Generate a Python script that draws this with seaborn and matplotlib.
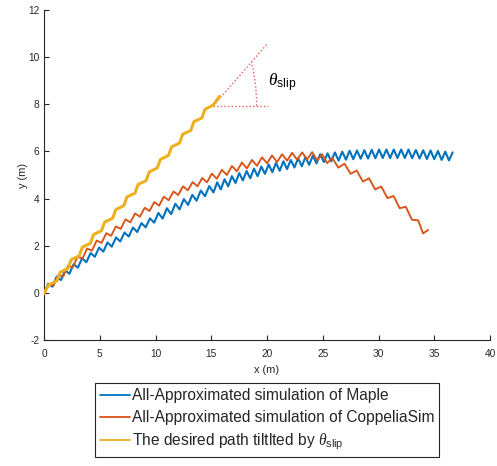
import matplotlib
matplotlib.use("Agg")
import matplotlib.pyplot as plt
import seaborn as sns
from matplotlib.patches import Arc

# ---------------- data ----------------
maple_x = [0.00, 0.38, 0.76, 1.14, 1.52, 1.90, 2.28, 2.66, 3.04, 3.42, 3.80, 4.18, 4.56, 4.94,
           5.32, 5.70, 6.08, 6.46, 6.84, 7.22, 7.60, 7.98, 8.36, 8.74, 9.12, 9.50, 9.88, 10.26,
           10.64, 11.02, 11.40, 11.78, 12.16, 12.54, 12.92, 13.30, 13.68, 14.06, 14.44, 14.82,
           15.20, 15.53, 15.86, 16.19, 16.52, 16.85, 17.18, 17.51, 17.84, 18.17, 18.50, 18.83,
           19.16, 19.49, 19.82, 20.15, 20.48, 20.81, 21.14, 21.47, 21.80, 22.13, 22.46, 22.79,
           23.12, 23.45, 23.78, 24.11, 24.44, 24.77, 25.10, 25.43, 25.76, 26.09, 26.42, 26.75,
           27.08, 27.41, 27.74, 28.07, 28.40, 28.73, 29.06, 29.39, 29.72, 30.05, 30.38, 30.71,
           31.04, 31.37, 31.70, 32.03, 32.36, 32.69, 33.02, 33.35, 33.68, 34.01, 34.34, 34.67,
           35.00, 35.33, 35.66, 35.99, 36.32, 36.65]
maple_y = [-0.04, 0.39, 0.26, 0.69, 0.54, 0.96, 0.81, 1.22, 1.07, 1.47, 1.30, 1.69, 1.53, 1.92,
           1.75, 2.14, 1.96, 2.35, 2.18, 2.56, 2.39, 2.77, 2.58, 2.96, 2.78, 3.16, 2.98, 3.39,
           3.15, 3.59, 3.34, 3.78, 3.54, 3.98, 3.73, 4.16, 3.91, 4.34, 4.10, 4.53,
           4.26, 4.69, 4.39, 4.82, 4.52, 4.95, 4.66, 5.08, 4.77, 5.17, 4.86, 5.27,
           4.95, 5.36, 5.05, 5.45, 5.12, 5.51, 5.18, 5.58, 5.25, 5.64, 5.32, 5.71,
           5.37, 5.76, 5.43, 5.82, 5.49, 5.88, 5.55, 5.92, 5.58, 5.96, 5.61, 5.99,
           5.65, 6.03, 5.67, 6.04, 5.69, 6.05, 5.70, 6.07, 5.71, 6.08, 5.72, 6.08,
           5.72, 6.08, 5.72, 6.08, 5.72, 6.08, 5.71, 6.06, 5.70, 6.05, 5.68, 6.04,
           5.67, 6.02, 5.64, 5.99, 5.62, 5.96]

coppelia_x = [0.00, 0.43, 0.86, 1.29, 1.72, 2.15, 2.58, 3.01, 3.44, 3.87, 4.30, 4.73, 5.16, 5.59,
              6.02, 6.45, 6.88, 7.31, 7.74, 8.17, 8.60, 9.03, 9.46, 9.89, 10.32, 10.75, 11.18,
              11.61, 12.04, 12.47, 12.90, 13.33, 13.76, 14.19, 14.62, 15.05,
              15.50, 15.95, 16.40, 16.85, 17.30, 17.75, 18.20, 18.65, 19.10, 19.55, 20.00, 20.45,
              20.90, 21.35, 21.80, 22.25, 22.70, 23.15, 23.60, 24.05, 24.50, 24.95, 25.40, 25.85,
              26.40, 26.95, 27.50, 28.05, 28.60, 29.15, 29.70, 30.25, 30.80, 31.35, 31.90, 32.45,
              33.00, 33.55, 34.00, 34.45]
coppelia_y = [-0.08, 0.37, 0.31, 0.76, 0.69, 1.15, 1.08, 1.53, 1.45, 1.88, 1.79, 2.22, 2.12, 2.53,
              2.42, 2.82, 2.71, 3.12, 2.99, 3.37, 3.23, 3.61, 3.47, 3.85, 3.70, 4.08, 3.93,
              4.30, 4.15, 4.52, 4.35, 4.70, 4.52, 4.87, 4.69, 5.06,
              4.84, 5.22, 5.00, 5.38, 5.16, 5.53, 5.28, 5.64, 5.39, 5.75, 5.50, 5.83,
              5.55, 5.88, 5.61, 5.94, 5.65, 5.96, 5.66, 5.97, 5.62, 5.88, 5.50, 5.73,
              5.31, 5.48, 5.05, 5.19, 4.72, 4.86, 4.39, 4.51, 4.02, 4.11, 3.59, 3.65,
              3.10, 3.08, 2.52, 2.67]

desired_x = [0.00, 0.44, 1.16, 1.44, 2.16, 2.44, 3.16, 3.44, 4.16, 4.44, 5.16, 5.44, 6.16, 6.44,
             7.16, 7.44, 8.16, 8.44, 9.16, 9.44, 10.16, 10.44, 11.16, 11.44, 12.16, 12.44,
             13.16, 13.44, 14.16, 14.44, 15.16, 15.75]
desired_y = [0.00, 0.34, 0.51, 0.87, 1.04, 1.41, 1.57, 1.94, 2.10, 2.47, 2.64, 3.00, 3.17, 3.53,
             3.70, 4.07, 4.23, 4.60, 4.76, 5.13, 5.30, 5.66, 5.83, 6.19, 6.36, 6.73,
             6.89, 7.26, 7.42, 7.79, 7.96, 8.34]

series_labels = ["All-Approximated simulation of Maple",
                 "All-Approximated simulation of CoppeliaSim",
                 r"The desired path tiltlted by $\theta_{\rm slip}$"]
x_ticks = [0, 5, 10, 15, 20, 25, 30, 35, 40]
y_ticks = [-2, 0, 2, 4, 6, 8, 10, 12]

# slip-angle construction (data coordinates)
slip_vertex = (15.2, 7.94)
slip_tip = (20.0, 10.55)
slip_h_end = 20.1
slip_radius = 3.87
slip_angle_deg = 28.5
slip_text_pos = (20.1, 8.77)

# ---------------- style ----------------
sns.set_theme(style="white")
plt.rcParams["font.family"] = ["Liberation Sans", "DejaVu Sans"]
plt.rcParams["mathtext.fontset"] = "custom"
plt.rcParams["mathtext.rm"] = "Liberation Sans"
plt.rcParams["mathtext.it"] = "Liberation Serif:italic"
plt.rcParams["mathtext.bf"] = "Liberation Sans:bold"
plt.rcParams["axes.unicode_minus"] = False

c_blue, c_red, c_yel = "#0072BD", "#D95319", "#EDB120"
dark = "#262626"

fig = plt.figure(figsize=(4.97, 4.66), dpi=100)
ax = fig.add_axes([44 / 497, 126 / 466, 446 / 497, 330 / 466])

sns.lineplot(x=maple_x, y=maple_y, ax=ax, color=c_blue, linewidth=1.5, sort=False,
             estimator=None, label=series_labels[0], zorder=3)
sns.lineplot(x=coppelia_x, y=coppelia_y, ax=ax, color=c_red, linewidth=1.35, sort=False,
             estimator=None, label=series_labels[1], zorder=4)
sns.lineplot(x=desired_x, y=desired_y, ax=ax, color=c_yel, linewidth=2.2, sort=False,
             estimator=None, label=series_labels[2], zorder=5)
for ln in ax.lines:
    ln.set_solid_joinstyle("round")
    ln.set_solid_capstyle("round")

# slip angle annotation
dot_col = "#f05a5a"
ax.plot([slip_vertex[0], slip_h_end], [slip_vertex[1], slip_vertex[1]],
        linestyle=(0, (1, 1.6)), color=dot_col, linewidth=1.0, zorder=2)
ax.plot([slip_vertex[0], slip_tip[0]], [slip_vertex[1], slip_tip[1]],
        linestyle=(0, (1, 1.6)), color=dot_col, linewidth=1.0, zorder=2)
ax.add_patch(Arc(slip_vertex, 2 * slip_radius, 2 * slip_radius, theta1=0,
                 theta2=slip_angle_deg, linestyle=(0, (1, 1.6)), color=dot_col,
                 linewidth=1.0, zorder=2))
ax.text(slip_text_pos[0], slip_text_pos[1], r"$\theta_{\rm slip}$", fontsize=12.5,
        ha="left", va="baseline", color="black")

ax.set_xlim(0, 40)
ax.set_ylim(-2, 12)
ax.set_xticks(x_ticks)
ax.set_yticks(y_ticks)
ax.set_xlabel("x (m)", fontsize=7.9, color=dark, labelpad=4.5)
ax.set_ylabel("y (m)", fontsize=7.9, color=dark, labelpad=0)
ax.tick_params(axis="both", direction="in", length=3.5, width=0.8, colors=dark,
               labelsize=7.3, bottom=True, left=True, top=False, right=False)
ax.tick_params(axis="x", pad=6.5)
ax.tick_params(axis="y", pad=3.2)
for s in ["top", "right"]:
    ax.spines[s].set_visible(False)
for s in ["left", "bottom"]:
    ax.spines[s].set_color(dark)
    ax.spines[s].set_linewidth(0.8)

handles, labels = ax.get_legend_handles_labels()
ax.get_legend().remove()
leg = fig.legend(handles, labels, loc="upper center", bbox_to_anchor=(267 / 497, 1 - 383 / 466),
                 fontsize=11.2, frameon=True, fancybox=False, framealpha=1,
                 edgecolor=dark, handlelength=1.95, handletextpad=0.1,
                 borderpad=0.32, labelspacing=0.45, borderaxespad=0)
leg.get_frame().set_linewidth(0.8)
for h in leg.legend_handles:
    h.set_linewidth(1.3)

fig.savefig("out.png", dpi=100)
